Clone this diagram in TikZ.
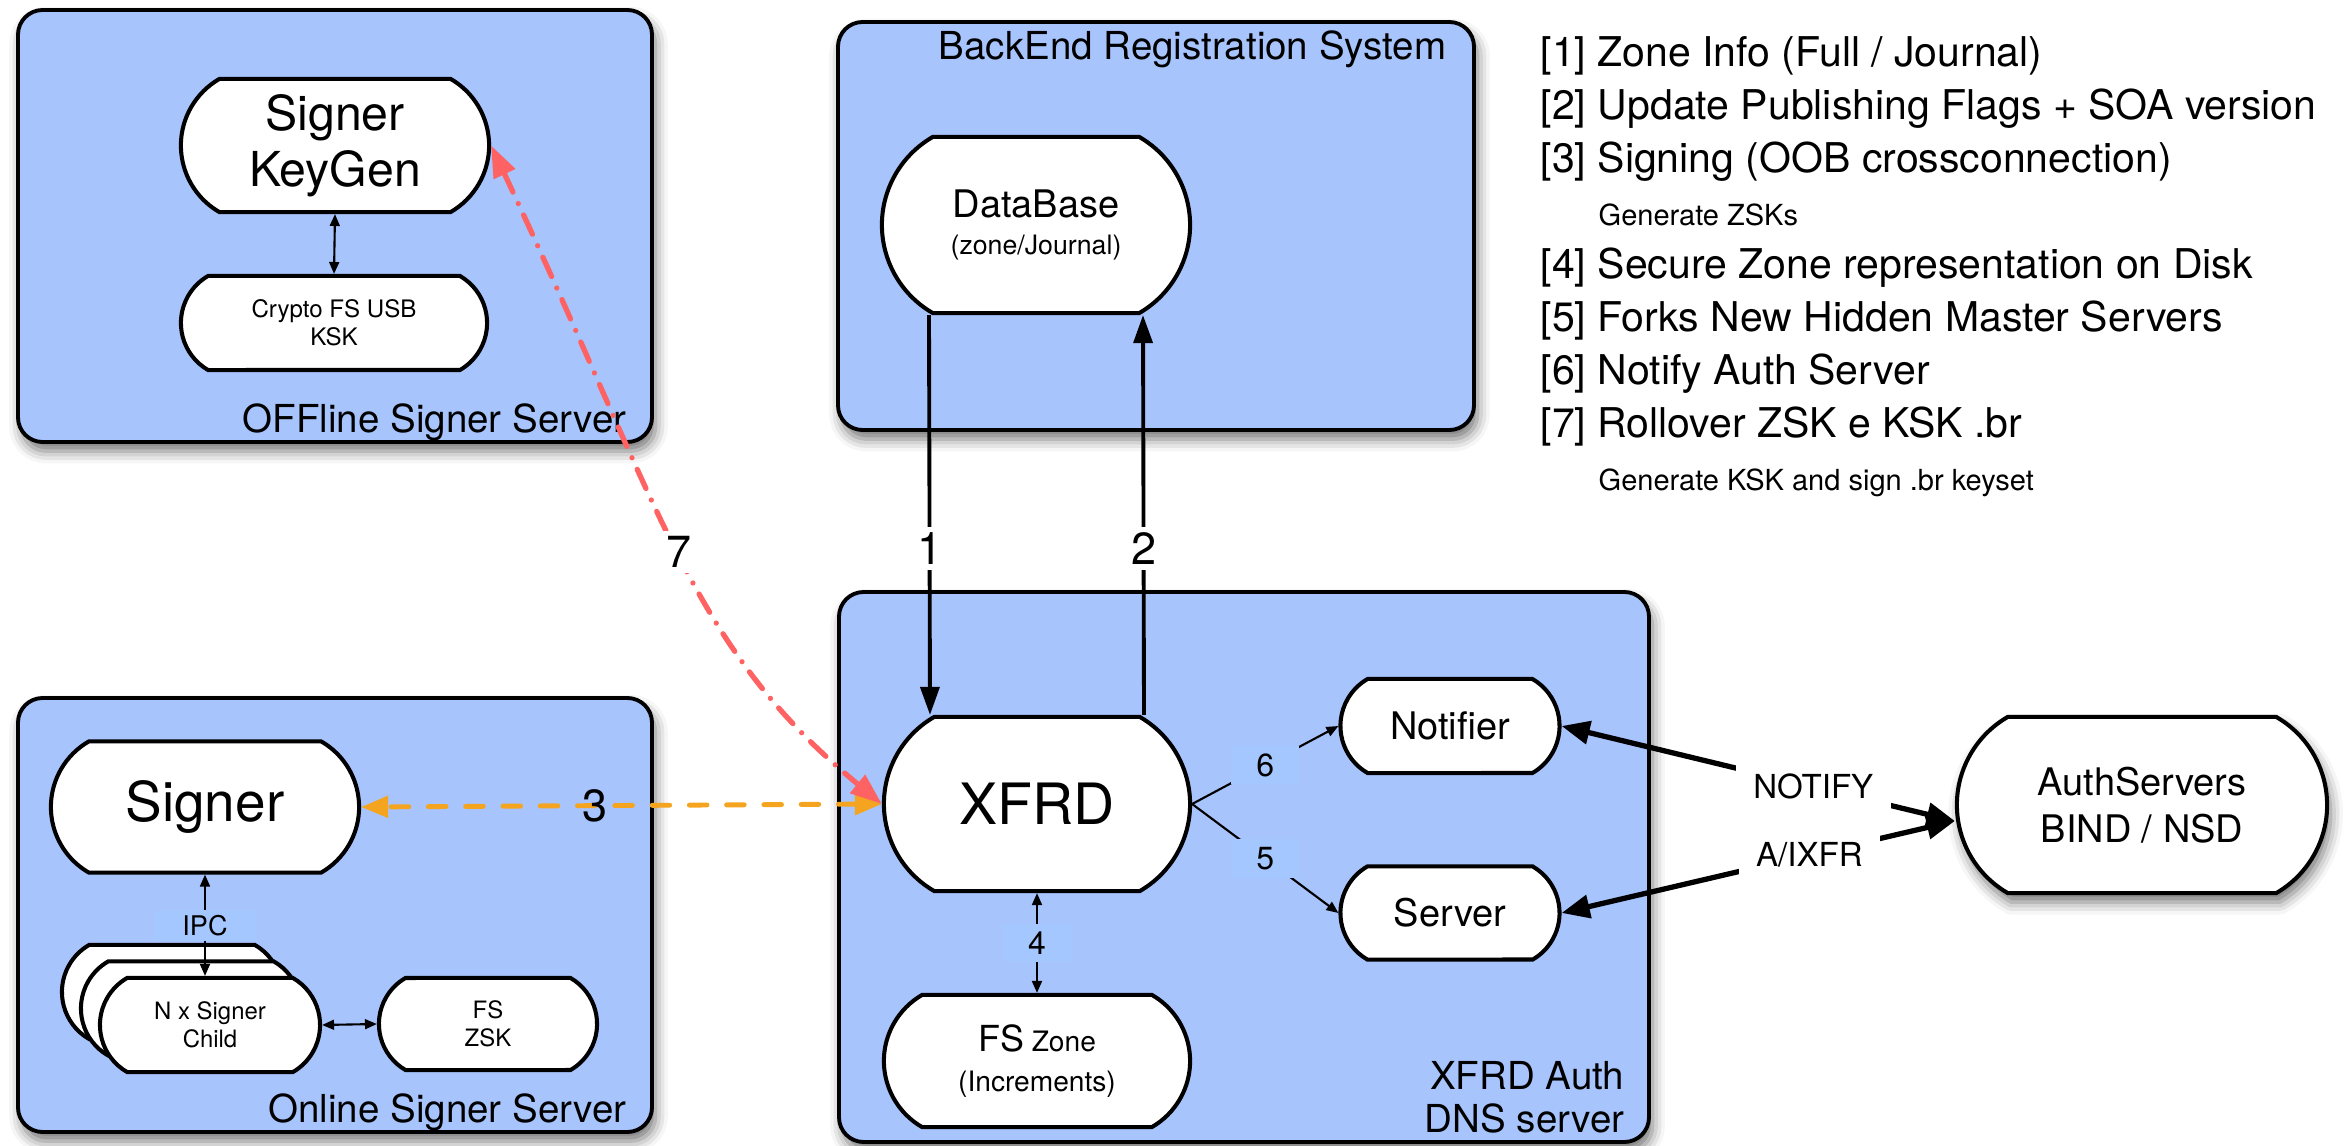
\documentclass[tikz,border=0pt]{standalone}
\usepackage{fontspec}
\setmainfont{TeX Gyre Heros}
\usetikzlibrary{shapes.misc,arrows.meta,calc,fit,shadows.blur}

\definecolor{serverblue}{RGB}{167,196,252}
\definecolor{tagblue}{RGB}{163,199,254}
\definecolor{signorange}{RGB}{244,164,30}
\definecolor{rollred}{RGB}{255,98,98}

\newcommand{\setfs}[2]{\fontsize{#1}{#2}\selectfont}

\begin{document}
\begin{tikzpicture}[x=0.01cm, y=-0.01cm,
  server/.style={draw=black, line width=1.1pt, fill=serverblue, rounded corners=7pt, inner sep=0pt,
    blur shadow={shadow xshift=1pt, shadow yshift=-2.6pt, shadow blur radius=3.5pt, shadow opacity=55}},
  proc/.style={rounded rectangle, rounded rectangle arc length=120, draw=black, line width=1.15pt,
    fill=white, inner sep=0pt, align=center},
  boxtitle/.style={anchor=base east, inner sep=0pt, font=\setfs{10.95}{13}},
  legbig/.style={anchor=base west, inner sep=0pt, font=\setfs{11.66}{14}},
  legsmall/.style={anchor=base west, inner sep=0pt, font=\setfs{8.25}{10}},
  flow/.style={draw=black, line width=1.1pt},
  fineline/.style={draw=black, line width=0.6pt},
  bigno/.style={fill=white, text=black, inner sep=1.5pt, font=\setfs{12.8}{14}},
  plainno/.style={inner sep=0pt, text=black, font=\setfs{12.8}{14}},
  tag/.style={fill=tagblue, text=black, inner sep=0pt, minimum width=0.68cm, minimum height=0.38cm, font=\setfs{9.1}{10}},
  wordtag/.style={fill=white, text=black, inner xsep=5pt, inner ysep=3pt, font=\setfs{9.4}{11}},
  orangeline/.style={draw=signorange, line width=1.4pt, line cap=round, dash pattern=on 5pt off 5.6pt},
  redline/.style={draw=rollred, line width=1.5pt, line cap=round, dash pattern=on 6pt off 3.6pt on 0pt off 3.6pt},
  notifyline/.style={draw=black, line width=1.5pt}
]
\useasboundingbox (0,0) rectangle (2344,1146);

% server boxes
\node[server, fit={(18,10) (652,442)}] (offline) {};
\node[server, fit={(838,22) (1474,430)}] (backend) {};
\node[server, fit={(18,698) (652,1132)}] (online) {};
\node[server, fit={(839,592) (1649,1142)}] (xfrdbox) {};

\node[boxtitle] (offtitle) at (627,433) {OFFline Signer Server};
\node[boxtitle] (betitle) at (1447,60) {BackEnd Registration System};
\node[boxtitle] (ontitle) at (627,1123) {Online Signer Server};
\node[boxtitle] (xfrdtitlea) at (1625,1090) {XFRD Auth};
\node[boxtitle] (xfrdtitleb) at (1625,1133) {DNS server};

% offline signer
\node[proc, minimum width=3.08cm, minimum height=1.33cm, font=\setfs{13.7}{15.9}] (keygen) at (335,145.5) {Signer\\KeyGen};
\node[proc, minimum width=3.06cm, minimum height=0.94cm, font=\setfs{6.85}{8}] (crypto) at (334,323) {Crypto FS USB\\KSK};

% backend
\node[proc, minimum width=3.08cm, minimum height=1.76cm, font=\setfs{10.8}{10.5}] (database) at (1036,225)
  {DataBase\\{\setfs{7.6}{10.5}(zone/Journal)}};

% xfrd server
\node[proc, minimum width=3.06cm, minimum height=1.74cm, font=\setfs{16.2}{18}] (xfrd) at (1037,804) {XFRD};
\node[proc, minimum width=3.06cm, minimum height=1.32cm, font=\setfs{8}{11.4}] (fszone) at (1037,1061)
  {{\setfs{10.2}{11.4}FS} Zone\\(Increments)};
\node[proc, minimum width=2.19cm, minimum height=0.94cm, font=\setfs{10.8}{13}] (notifier) at (1450,726) {Notifier};
\node[proc, minimum width=2.19cm, minimum height=0.93cm, font=\setfs{10.8}{13}] (server) at (1450,913) {Server};

% authoritative servers
\node[proc, minimum width=3.70cm, minimum height=1.76cm, font=\setfs{10.8}{13.4},
  blur shadow={shadow xshift=1pt, shadow yshift=-2.6pt, shadow blur radius=3.5pt, shadow opacity=55}]
  (auth) at (2142,805) {AuthServers\\BIND / NSD};

% online signer
\node[proc, minimum width=3.08cm, minimum height=1.31cm, font=\setfs{15.6}{18}] (signer) at (205,807) {Signer};
\node[proc, minimum width=2.2cm, minimum height=0.94cm] (childc) at (172,992) {};
\node[proc, minimum width=2.2cm, minimum height=0.94cm] (childb) at (191,1008.5) {};
\node[proc, minimum width=2.2cm, minimum height=0.94cm, font=\setfs{6.8}{8}] (child) at (210,1025) {N x Signer\\Child};
\node[proc, minimum width=2.18cm, minimum height=0.92cm, font=\setfs{6.8}{8}] (fszsk) at (488,1024) {FS\\ZSK};

% connectors inside the boxes
\draw[fineline, {Triangle[length=3.4pt,width=2.8pt]}-{Triangle[length=3.4pt,width=2.8pt]}]
  (keygen.south) -- (crypto.north);
\draw[fineline, {Triangle[length=3.4pt,width=2.8pt]}-{Triangle[length=3.4pt,width=2.8pt]}]
  (signer.south) -- node[tag, minimum width=1.01cm, minimum height=0.31cm, font=\setfs{7.7}{9}] (ipc) {IPC}
  (signer.south |- child.north);
\draw[fineline, {Triangle[length=3.4pt,width=2.8pt]}-{Triangle[length=3.4pt,width=2.8pt]}]
  (child.east) -- (fszsk.west);
\draw[fineline, {Triangle[length=3.4pt,width=2.8pt]}-{Triangle[length=3.4pt,width=2.8pt]}]
  (xfrd.south) -- node[tag] (lbl4) {4} (fszone.north);
\draw[fineline, -{Triangle[length=3.4pt,width=2.8pt]}]
  (xfrd.east) -- node[tag] (lbl6) {6} (notifier.west);
\draw[fineline, -{Triangle[length=3.4pt,width=2.8pt]}]
  (xfrd.east) -- node[tag] (lbl5) {5} (server.west);

% zone transfer between backend and xfrd
\draw[flow, -{Triangle[length=8pt,width=5.4pt]}]
  ($(database.south)+(-107,0)$) -- node[bigno, pos=0.584] (lbl1) {1} ($(xfrd.north)+(-107,0)$);
\draw[flow, -{Triangle[length=8pt,width=5.4pt]}]
  ($(xfrd.north)+(107,0)$) -- node[bigno, pos=0.416] (lbl2) {2} ($(database.south)+(107,0)$);

% signing and rollover
\draw[orangeline, {Triangle[length=7.7pt,width=6pt]}-{Triangle[length=7.7pt,width=6pt]}, signorange]
  (xfrd.west) -- node[plainno, pos=0.55] (lbl3) {3} (signer.east);
\draw[redline, {Triangle[length=9pt,width=6.5pt]}-{Triangle[length=9pt,width=6.5pt]}, rollred]
  (keygen.east) .. controls +(172,366) and +(-193,-159) .. node[bigno, pos=0.5] (lbl7) {7} (xfrd.west);

% notify / transfer to authoritative servers
\coordinate (authin) at ($(auth.west)+(0,16)$);
\draw[notifyline, {Triangle[length=8pt,width=6.5pt]}-{Triangle[length=8pt,width=6.5pt]}]
  (notifier.east) -- node[wordtag, pos=0.64] (notify) {NOTIFY} (authin);
\draw[notifyline, {Triangle[length=8pt,width=6.5pt]}-{Triangle[length=8pt,width=6.5pt]}]
  (server.east) -- node[wordtag, pos=0.63] (axfr) {A/IXFR} (authin);

% legend
\node[legbig] (leg1) at (1540,67) {[1] Zone Info (Full / Journal)};
\node[legbig] (leg2) at (1540,120) {[2] Update Publishing Flags + SOA version};
\node[legbig] (leg3) at (1540,173) {[3] Signing (OOB crossconnection)};
\node[legsmall] (leg3a) at (1598,226) {Generate ZSKs};
\node[legbig] (leg4) at (1540,279) {[4] Secure Zone representation on Disk};
\node[legbig] (leg5) at (1540,332) {[5] Forks New Hidden Master Servers};
\node[legbig] (leg6) at (1540,385) {[6] Notify Auth Server};
\node[legbig] (leg7) at (1540,438) {[7] Rollover ZSK e KSK .br};
\node[legsmall] (leg7a) at (1598,491) {Generate KSK and sign .br keyset};
\end{tikzpicture}
\end{document}
